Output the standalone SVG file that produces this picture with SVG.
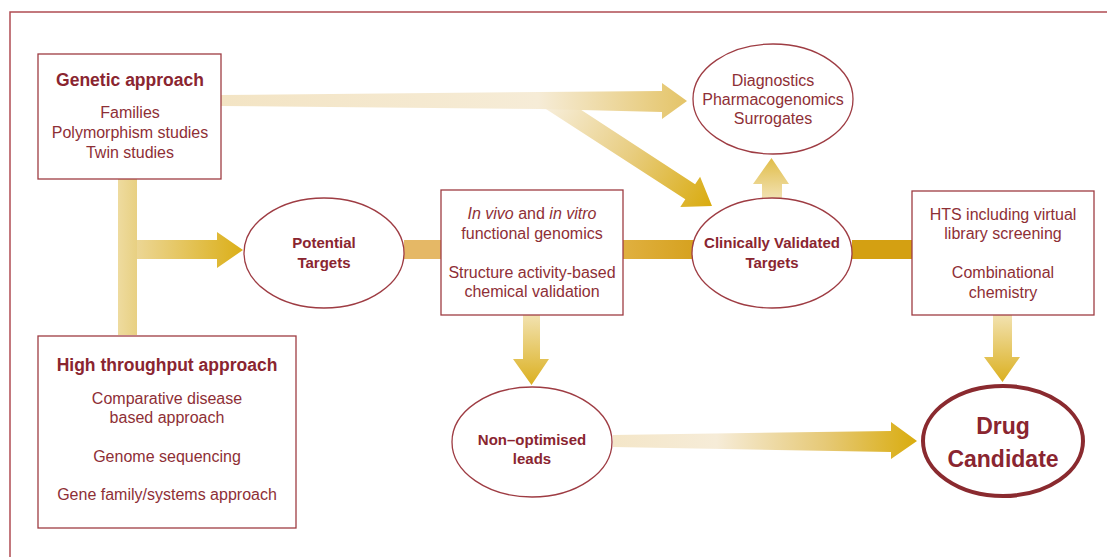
<svg xmlns="http://www.w3.org/2000/svg" width="1107" height="557" viewBox="0 0 1107 557">
<style>
.box{fill:#fff;stroke:#9e3c43;stroke-width:1.3}
.ell{fill:#fff;stroke:#9e3c43;stroke-width:1.3}
.t{font-family:"Liberation Sans",Arial,sans-serif;font-size:16px;fill:#8e2f36;text-anchor:middle}
.h{font-family:"Liberation Sans",Arial,sans-serif;font-size:17.5px;font-weight:bold;fill:#8a2530;text-anchor:middle}
.b{font-family:"Liberation Sans",Arial,sans-serif;font-size:15px;font-weight:bold;fill:#8a2530;text-anchor:middle}
.dc{font-family:"Liberation Sans",Arial,sans-serif;font-size:23px;font-weight:bold;fill:#8a2530;text-anchor:middle}
</style>
<defs>
<linearGradient id="gVert" x1="118" y1="0" x2="137" y2="0" gradientUnits="userSpaceOnUse"><stop offset="0" stop-color="#eedb9f"/><stop offset="1" stop-color="#e8d082"/></linearGradient>
<linearGradient id="gPot" x1="137" y1="0" x2="243" y2="0" gradientUnits="userSpaceOnUse"><stop offset="0" stop-color="#ecd694"/><stop offset="1" stop-color="#dbaf18"/></linearGradient>
<linearGradient id="gTop" x1="221" y1="0" x2="687" y2="0" gradientUnits="userSpaceOnUse"><stop offset="0" stop-color="#f3e4c4"/><stop offset="0.68" stop-color="#f6ecd7"/><stop offset="1" stop-color="#e4c468"/></linearGradient>
<linearGradient id="gDiag" x1="548" y1="104" x2="712" y2="206" gradientUnits="userSpaceOnUse"><stop offset="0" stop-color="#f7eedb"/><stop offset="0.5" stop-color="#e8cd80"/><stop offset="1" stop-color="#d9ab0e"/></linearGradient>
<linearGradient id="gMid" x1="623" y1="0" x2="693" y2="0" gradientUnits="userSpaceOnUse"><stop offset="0" stop-color="#e0b040"/><stop offset="1" stop-color="#d6a220"/></linearGradient>
<linearGradient id="gDown" x1="0" y1="315" x2="0" y2="385" gradientUnits="userSpaceOnUse"><stop offset="0" stop-color="#f2e2b0"/><stop offset="1" stop-color="#dbb020"/></linearGradient>
<linearGradient id="gDown2" x1="0" y1="315" x2="0" y2="382" gradientUnits="userSpaceOnUse"><stop offset="0" stop-color="#f2e2b0"/><stop offset="1" stop-color="#dbb020"/></linearGradient>
<linearGradient id="gUp" x1="0" y1="197" x2="0" y2="158" gradientUnits="userSpaceOnUse"><stop offset="0" stop-color="#f1e0ae"/><stop offset="1" stop-color="#e0bd48"/></linearGradient>
<linearGradient id="gBot" x1="613" y1="0" x2="917" y2="0" gradientUnits="userSpaceOnUse"><stop offset="0" stop-color="#f4e6c8"/><stop offset="0.34" stop-color="#f6ecd8"/><stop offset="0.7" stop-color="#e6c976"/><stop offset="1" stop-color="#d9ac0e"/></linearGradient>
</defs>

<path d="M10,557 V12 H1107" fill="none" stroke="#b04c53" stroke-width="1.5"/>

<g id="connectors">
  <rect x="118" y="179" width="19" height="156" fill="url(#gVert)"/>
  <polygon points="137,240 217,240 217,232 243,250 217,268 217,259 137,259" fill="url(#gPot)"/>
  <polygon points="532,100 566,100 695.1,184.3 700.1,176.7 712,206 680.3,206.9 685.3,199.3" fill="url(#gDiag)"/>
  <polygon points="221,95 540,92 662,91 662,83 687,101 662,119 662,112 540,109 221,106" fill="url(#gTop)"/>
  <rect x="404" y="240" width="38" height="19" fill="#e5b866"/>
  <rect x="622" y="240" width="72" height="19" fill="url(#gMid)"/>
  <rect x="852" y="240" width="61" height="19" fill="#d4a012"/>
  <polygon points="523,315 540,315 540,359 549,359 531.5,385 513,359 523,359" fill="url(#gDown)"/>
  <polygon points="993,315 1012,315 1012,357 1020,357 1002.5,382 984,357 993,357" fill="url(#gDown2)"/>
  <polygon points="762,199 782,199 782,184 789,184 771.5,158 753,184 762,184" fill="url(#gUp)"/>
  <polygon points="613,435 891,431 891,422 917,441 891,459 891,452 613,447" fill="url(#gBot)"/>
</g>

<g id="genetic">
  <rect class="box" x="38" y="54" width="183" height="125"/>
  <text class="h" x="130" y="86">Genetic approach</text>
  <text class="t" x="130" y="118">Families</text>
  <text class="t" x="130" y="138">Polymorphism studies</text>
  <text class="t" x="130" y="158">Twin studies</text>
</g>

<g id="highthroughput">
  <rect class="box" x="38" y="336" width="258" height="192"/>
  <text class="h" x="167" y="371">High throughput approach</text>
  <text class="t" x="167" y="404">Comparative disease</text>
  <text class="t" x="167" y="423">based approach</text>
  <text class="t" x="167" y="462">Genome sequencing</text>
  <text class="t" x="167" y="500">Gene family/systems approach</text>
</g>

<g id="potential">
  <ellipse class="ell" cx="324" cy="253" rx="80" ry="55"/>
  <text class="b" x="324" y="248">Potential</text>
  <text class="b" x="324" y="268">Targets</text>
</g>

<g id="invivo">
  <rect class="box" x="441" y="190" width="182" height="125"/>
  <text class="t" x="532" y="219"><tspan font-style="italic">In vivo</tspan> and <tspan font-style="italic">in vitro</tspan></text>
  <text class="t" x="532" y="239">functional genomics</text>
  <text class="t" x="532" y="278">Structure activity-based</text>
  <text class="t" x="532" y="297">chemical validation</text>
</g>

<g id="clinically">
  <ellipse class="ell" cx="772" cy="253" rx="80" ry="55"/>
  <text class="b" x="772" y="248">Clinically Validated</text>
  <text class="b" x="772" y="268">Targets</text>
</g>

<g id="diagnostics">
  <ellipse class="ell" cx="773" cy="99" rx="80" ry="55"/>
  <text class="t" x="773" y="86">Diagnostics</text>
  <text class="t" x="773" y="105">Pharmacogenomics</text>
  <text class="t" x="773" y="124">Surrogates</text>
</g>

<g id="hts">
  <rect class="box" x="912" y="191" width="182" height="124"/>
  <text class="t" x="1003" y="220">HTS including virtual</text>
  <text class="t" x="1003" y="239">library screening</text>
  <text class="t" x="1003" y="278">Combinational</text>
  <text class="t" x="1003" y="298">chemistry</text>
</g>

<g id="nonoptimised">
  <ellipse class="ell" cx="532" cy="442" rx="80" ry="55"/>
  <text class="b" x="532" y="445">Non–optimised</text>
  <text class="b" x="532" y="464">leads</text>
</g>

<g id="drug">
  <ellipse cx="1003" cy="441" rx="80" ry="55" fill="#fff" stroke="#8a2a2f" stroke-width="4"/>
  <text class="dc" x="1003" y="434">Drug</text>
  <text class="dc" x="1003" y="467">Candidate</text>
</g>
</svg>
